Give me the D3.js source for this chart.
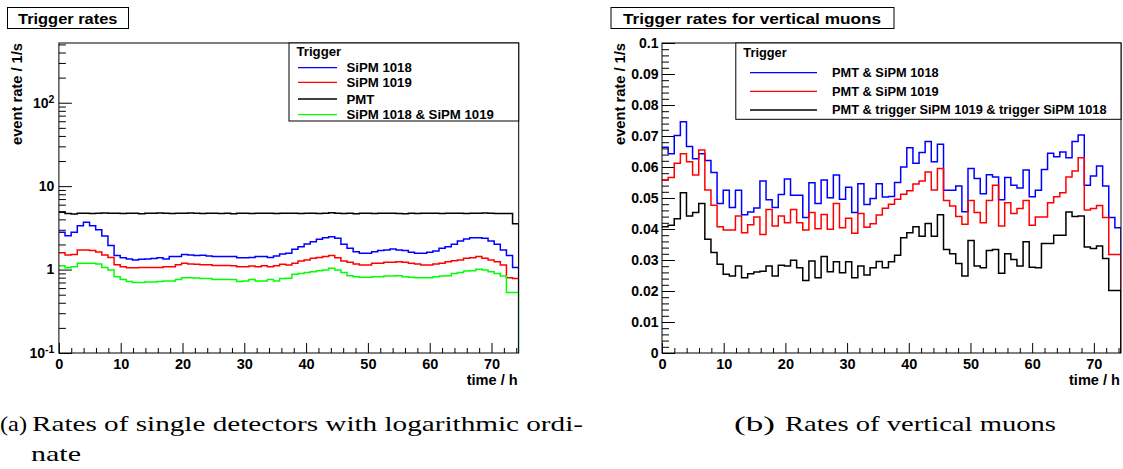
<!DOCTYPE html>
<html>
<head>
<meta charset="utf-8">
<script src="https://cdn.jsdelivr.net/npm/d3@7"></script>
<style>
  body { margin: 0; background: #fff; }
  svg { display: block; font-family: "Liberation Sans", Arial, sans-serif; }
</style>
</head>
<body>
<svg id="chart" width="1123" height="469"></svg>
<script>
// ---- data: one bin per hour, 75 bins over 0 .. 74.4 h ----
const X_MAX = 74.4;
const xMajorTicks = [0, 10, 20, 30, 40, 50, 60, 70];
const xMinorTicks = [2, 4, 6, 8, 12, 14, 16, 18, 22, 24, 26, 28, 32, 34, 36, 38, 42, 44, 46, 48,
                     52, 54, 56, 58, 62, 64, 66, 68, 72, 74];

// left panel (log ordinate)
const logTicks = [0.1, 1, 10, 100];
const logTickLabels = [["10", "-1"], ["1", ""], ["10", ""], ["10", "2"]];
const logMinorTicks = [0.2, 0.3, 0.4, 0.5, 0.6, 0.7, 0.8, 0.9, 2, 3, 4, 5, 6, 7, 8, 9,
                       20, 30, 40, 50, 60, 70, 80, 90, 200, 300, 400, 500];

const sipm1018 = [2.80, 2.55, 2.80, 3.36, 3.69, 3.36, 3.01, 2.53, 1.94, 1.47,
  1.39, 1.34, 1.30, 1.33, 1.34, 1.36, 1.39, 1.34, 1.43, 1.43,
  1.52, 1.50, 1.47, 1.48, 1.45, 1.43, 1.43, 1.43, 1.43, 1.39,
  1.39, 1.40, 1.43, 1.43, 1.40, 1.45, 1.54, 1.57, 1.75, 1.88,
  2.03, 2.16, 2.31, 2.41, 2.48, 2.37, 2.01, 1.80, 1.64, 1.57,
  1.57, 1.64, 1.69, 1.72, 1.77, 1.72, 1.69, 1.61, 1.57, 1.57,
  1.61, 1.67, 1.80, 1.88, 2.01, 2.20, 2.33, 2.41, 2.41, 2.37,
  2.20, 2.01, 1.72, 1.47, 1.06];
const sipm1019 = [1.59, 1.50, 1.52, 1.72, 1.72, 1.69, 1.62, 1.50, 1.40, 1.14,
  1.08, 1.05, 1.05, 1.06, 1.06, 1.06, 1.06, 1.08, 1.08, 1.14,
  1.19, 1.17, 1.16, 1.14, 1.14, 1.12, 1.12, 1.12, 1.11, 1.08,
  1.08, 1.10, 1.08, 1.11, 1.08, 1.11, 1.16, 1.135, 1.19, 1.27,
  1.30, 1.37, 1.40, 1.43, 1.47, 1.39, 1.27, 1.22, 1.17, 1.135,
  1.135, 1.19, 1.19, 1.22, 1.22, 1.24, 1.22, 1.19, 1.17, 1.135,
  1.135, 1.17, 1.19, 1.24, 1.28, 1.30, 1.37, 1.39, 1.43, 1.37,
  1.30, 1.24, 1.135, 0.80, 0.78];
const pmt = [4.85, 4.70, 4.65, 4.72, 4.75, 4.70, 4.72, 4.78, 4.72, 4.75,
  4.70, 4.72, 4.75, 4.68, 4.72, 4.75, 4.78, 4.72, 4.70, 4.75,
  4.72, 4.78, 4.75, 4.70, 4.72, 4.75, 4.70, 4.72, 4.68, 4.75,
  4.72, 4.70, 4.72, 4.75, 4.72, 4.70, 4.72, 4.75, 4.72, 4.70,
  4.72, 4.75, 4.70, 4.72, 4.80, 4.72, 4.70, 4.72, 4.68, 4.75,
  4.72, 4.70, 4.72, 4.75, 4.72, 4.70, 4.68, 4.72, 4.70, 4.72,
  4.75, 4.72, 4.70, 4.72, 4.75, 4.72, 4.70, 4.72, 4.75, 4.78,
  4.72, 4.70, 4.70, 4.70, 3.55];
const sipmBoth = [1.11, 1.05, 1.08, 1.19, 1.19, 1.19, 1.17, 1.06, 0.99, 0.82,
  0.76, 0.72, 0.70, 0.70, 0.71, 0.71, 0.72, 0.73, 0.73, 0.76,
  0.80, 0.80, 0.79, 0.78, 0.78, 0.76, 0.76, 0.76, 0.76, 0.72,
  0.73, 0.76, 0.73, 0.73, 0.76, 0.73, 0.78, 0.785, 0.877, 0.90,
  0.92, 0.944, 0.97, 0.99, 1.035, 0.99, 0.92, 0.845, 0.82, 0.81,
  0.81, 0.82, 0.82, 0.84, 0.84, 0.845, 0.82, 0.81, 0.80, 0.80,
  0.80, 0.82, 0.84, 0.845, 0.90, 0.92, 0.96, 0.97, 1.01, 0.99,
  0.944, 0.90, 0.84, 0.53, 0.53];

// right panel (linear ordinate)
const linTicks = [0, 0.01, 0.02, 0.03, 0.04, 0.05, 0.06, 0.07, 0.08, 0.09, 0.1];
const linTickLabels = ["0", "0.01", "0.02", "0.03", "0.04", "0.05", "0.06", "0.07", "0.08", "0.09", "0.1"];

const pmtSipm1018 = [0.0664, 0.0643, 0.0702, 0.0746, 0.0666, 0.0627, 0.0643, 0.0621, 0.0582, 0.0482,
  0.0525, 0.0469, 0.0525, 0.0446, 0.0455, 0.0468, 0.0555, 0.0494, 0.0469, 0.0511,
  0.0561, 0.0509, 0.0509, 0.0437, 0.0549, 0.0482, 0.0558, 0.0501, 0.0574, 0.0496,
  0.0535, 0.0453, 0.0546, 0.0479, 0.0498, 0.0546, 0.0503, 0.0505, 0.0550, 0.0600,
  0.0662, 0.0612, 0.0647, 0.0682, 0.0617, 0.0673, 0.0525, 0.0525, 0.0539, 0.0456,
  0.0595, 0.0563, 0.0514, 0.0575, 0.0568, 0.0494, 0.0566, 0.0541, 0.0532, 0.0590,
  0.0504, 0.0525, 0.0592, 0.0644, 0.0633, 0.0648, 0.0630, 0.0682, 0.0703, 0.0541,
  0.0571, 0.0603, 0.0539, 0.0437, 0.0404];
const pmtSipm1019 = [0.0557, 0.0566, 0.0612, 0.0643, 0.0617, 0.0574, 0.0655, 0.0526, 0.0477, 0.0407,
  0.0397, 0.0397, 0.0442, 0.0388, 0.0414, 0.0439, 0.0382, 0.0463, 0.0410, 0.0442,
  0.0420, 0.0463, 0.0420, 0.0397, 0.0453, 0.0401, 0.0447, 0.0399, 0.0482, 0.0404,
  0.0435, 0.0386, 0.0450, 0.0406, 0.0417, 0.0445, 0.0467, 0.0480, 0.0496, 0.0512,
  0.0523, 0.0545, 0.0555, 0.0584, 0.0526, 0.0595, 0.0492, 0.0474, 0.0440, 0.0415,
  0.0492, 0.0453, 0.0420, 0.0492, 0.0541, 0.0410, 0.0485, 0.0450, 0.0466, 0.0492,
  0.0412, 0.0439, 0.0439, 0.0485, 0.0504, 0.0517, 0.0568, 0.0587, 0.0630, 0.0461,
  0.0466, 0.0476, 0.0437, 0.0318, 0.0318];
const pmtAllThree = [0.0407, 0.0412, 0.0433, 0.0517, 0.0442, 0.0453, 0.0482, 0.0367, 0.0324, 0.0286,
  0.0254, 0.0248, 0.0281, 0.0243, 0.0256, 0.0261, 0.0264, 0.0281, 0.0248, 0.0283,
  0.0281, 0.0299, 0.0275, 0.0234, 0.0297, 0.0243, 0.0311, 0.0262, 0.0294, 0.0259,
  0.0294, 0.0243, 0.0281, 0.0252, 0.0275, 0.0295, 0.0275, 0.0294, 0.0315, 0.0372,
  0.0388, 0.0407, 0.0377, 0.0418, 0.0377, 0.0446, 0.0334, 0.0320, 0.0289, 0.0248,
  0.0363, 0.0281, 0.0275, 0.0331, 0.0334, 0.0257, 0.0320, 0.0302, 0.0281, 0.0359,
  0.0277, 0.0275, 0.0353, 0.0353, 0.0380, 0.0380, 0.0455, 0.0440, 0.0442, 0.0342,
  0.0337, 0.0345, 0.0305, 0.0202, 0.0202];

const leftSeries = [
  { name: "SiPM 1018", values: sipm1018, color: "#0000ff" },
  { name: "SiPM 1019", values: sipm1019, color: "#ff0000" },
  { name: "PMT", values: pmt, color: "#000000" },
  { name: "SiPM 1018 & SiPM 1019", values: sipmBoth, color: "#00ff00" }
];
const rightSeries = [
  { name: "PMT & SiPM 1018", values: pmtSipm1018, color: "#0000ff" },
  { name: "PMT & SiPM 1019", values: pmtSipm1019, color: "#ff0000" },
  { name: "PMT & trigger SiPM 1019 & trigger SiPM 1018", values: pmtAllThree, color: "#000000" }
];

// ---- layout ----
const TOP = 43, BOTTOM = 353;
const svg = d3.select("#chart");

function histLine(x, y, floorY, values) {
  const bw = X_MAX / values.length;
  const pts = values.map((v, i) => [x(i * bw), y(v)]);
  pts.push([x(X_MAX), y(values[values.length - 1])]);
  pts.push([x(X_MAX), floorY]);
  return d3.line().curve(d3.curveStepAfter)(pts);
}

function styleAxis(a, size) {
  a.select(".domain").remove();
  a.selectAll("line").attr("stroke", "#000").attr("stroke-width", 1);
  a.selectAll("text").attr("fill", "#000").attr("font-size", size)
    .attr("font-weight", "bold").attr("font-family", "Liberation Sans, Arial, sans-serif");
}

function drawFrame(g, x0, x1, id) {
  g.append("clipPath").attr("id", id).append("rect")
    .attr("x", x0).attr("y", TOP).attr("width", x1 - x0).attr("height", BOTTOM - TOP);
  g.append("rect").attr("x", x0).attr("y", TOP).attr("width", x1 - x0).attr("height", BOTTOM - TOP)
    .attr("fill", "none").attr("stroke", "#000").attr("stroke-width", 1);
}

function drawXAxis(g, x) {
  g.append("g").attr("transform", `translate(0,${BOTTOM})`)
    .call(d3.axisBottom(x).tickValues(xMinorTicks).tickSize(-5).tickFormat(""))
    .call(a => styleAxis(a, 14.5));
  g.append("g").attr("transform", `translate(0,${BOTTOM})`)
    .call(d3.axisBottom(x).tickValues(xMajorTicks).tickSize(-10).tickPadding(5.5).tickFormat(d3.format("d")))
    .call(a => styleAxis(a, 14.5));
  g.append("text").attr("x", x.range()[1] - 1).attr("y", 384.5).attr("text-anchor", "end")
    .attr("font-size", 14.5).attr("font-weight", "bold")
    .attr("textLength", 51).attr("lengthAdjust", "spacingAndGlyphs").text("time / h");
}

function drawYLabel(g, cx) {
  g.append("text").attr("transform", `translate(${cx},${TOP}) rotate(-90)`)
    .attr("text-anchor", "end").attr("dy", "0.35em")
    .attr("font-size", 14).attr("font-weight", "bold")
    .attr("textLength", 102).attr("lengthAdjust", "spacingAndGlyphs").text("event rate / 1/s");
}

function drawTitle(g, box, textX, textW, label) {
  g.append("rect").attr("x", box[0]).attr("y", 7.5).attr("width", box[1] - box[0]).attr("height", 21)
    .attr("fill", "#fff").attr("stroke", "#000").attr("stroke-width", 1);
  g.append("text").attr("x", textX).attr("y", 23.5)
    .attr("font-size", 15.5).attr("font-weight", "bold")
    .attr("textLength", textW).attr("lengthAdjust", "spacingAndGlyphs").text(label);
}

function drawLegend(g, box, series, rows, lineX, textX, headerY, fontSize) {
  g.append("rect").attr("x", box[0]).attr("y", box[1]).attr("width", box[2] - box[0])
    .attr("height", box[3] - box[1]).attr("fill", "#fff").attr("stroke", "#000").attr("stroke-width", 1);
  g.append("text").attr("x", box[0] + 7.5).attr("y", headerY).attr("dy", "0.35em")
    .attr("font-size", fontSize).attr("font-weight", "bold").text("Trigger");
  const item = g.selectAll("g.item").data(series).join("g").attr("class", "item");
  item.append("line").attr("x1", lineX[0]).attr("x2", lineX[1])
    .attr("y1", (d, i) => rows[i]).attr("y2", (d, i) => rows[i])
    .attr("stroke", d => d.color).attr("stroke-width", 1.3);
  item.append("text").attr("x", textX).attr("y", (d, i) => rows[i]).attr("dy", "0.35em")
    .attr("font-size", fontSize).attr("font-weight", "bold").text(d => d.name);
}

// ---- left panel: rates of single detectors ----
{
  const x0 = 58.9, x1 = 518.7;
  const g = svg.append("g");
  const x = d3.scaleLinear().domain([0, X_MAX]).range([x0, x1]);
  const y = d3.scaleLog().domain([0.1, 520]).range([BOTTOM, TOP]);

  drawTitle(g, [7.5, 128.5], 18, 99.5, "Trigger rates");

  g.append("g").attr("transform", `translate(${x0},0)`)
    .call(d3.axisLeft(y).tickValues(logMinorTicks).tickSize(-7).tickFormat(""))
    .call(a => styleAxis(a, 14));
  g.append("g").attr("transform", `translate(${x0},0)`)
    .call(d3.axisLeft(y).tickValues(logTicks).tickSize(-13).tickFormat(""))
    .call(a => styleAxis(a, 14));
  const lab = g.selectAll("text.ylab").data(logTicks).join("text").attr("class", "ylab")
    .attr("x", x0 - 4.5).attr("y", d => y(d)).attr("dy", "0.35em").attr("text-anchor", "end")
    .attr("font-size", 14).attr("font-weight", "bold");
  lab.append("tspan").text((d, i) => logTickLabels[i][0]);
  lab.append("tspan").attr("dy", "-0.45em").attr("font-size", 10.5)
    .text((d, i) => logTickLabels[i][1]);

  drawXAxis(g, x);
  drawYLabel(g, 17);

  g.append("g").attr("clip-path", "url(#clipL)")
    .selectAll("path").data(leftSeries).join("path")
    .attr("d", d => histLine(x, y, BOTTOM + 2, d.values))
    .attr("fill", "none").attr("stroke", d => d.color).attr("stroke-width", 1.5);

  drawFrame(g, x0, x1, "clipL");
  drawLegend(g, [289, 43, x1, 121], leftSeries, [67.7, 82.3, 99, 114.7], [298, 337], 346.5, 51.5, 13.2);
}

// ---- right panel: rates of vertical muons ----
{
  const x0 = 662, x1 = 1121;
  const g = svg.append("g");
  const x = d3.scaleLinear().domain([0, X_MAX]).range([x0, x1]);
  const y = d3.scaleLinear().domain([0, 0.1]).range([BOTTOM, TOP]);

  drawTitle(g, [611, 894], 623, 258, "Trigger rates for vertical muons");

  g.append("g").attr("transform", `translate(${x0},0)`)
    .call(d3.axisLeft(y).ticks(50).tickSize(-7).tickFormat(""))
    .call(a => styleAxis(a, 14));
  g.append("g").attr("transform", `translate(${x0},0)`)
    .call(d3.axisLeft(y).tickValues(linTicks).tickSize(-13).tickPadding(3.5)
      .tickFormat((d, i) => linTickLabels[i]))
    .call(a => styleAxis(a, 14));

  drawXAxis(g, x);
  drawYLabel(g, 620);

  g.append("g").attr("clip-path", "url(#clipR)")
    .selectAll("path").data(rightSeries).join("path")
    .attr("d", d => histLine(x, y, y(0), d.values))
    .attr("fill", "none").attr("stroke", d => d.color).attr("stroke-width", 1.5);

  drawFrame(g, x0, x1, "clipR");
  drawLegend(g, [735.8, 43, x1, 119.3], rightSeries, [72.7, 91.3, 110], [750, 817], 832, 52.7, 12.8);
}

// ---- sub-figure captions ----
const cap = svg.append("g").attr("font-family", "Liberation Serif, Times New Roman, serif")
  .attr("font-size", 22).attr("fill", "#000");
cap.append("text").attr("x", 0).attr("y", 430.5).attr("textLength", 27)
  .attr("lengthAdjust", "spacingAndGlyphs").text("(a)");
cap.append("text").attr("x", 32).attr("y", 430.5).attr("textLength", 551)
  .attr("lengthAdjust", "spacingAndGlyphs").text("Rates of single detectors with logarithmic ordi-");
cap.append("text").attr("x", 31).attr("y", 460.5).attr("textLength", 50)
  .attr("lengthAdjust", "spacingAndGlyphs").text("nate");
cap.append("text").attr("x", 734).attr("y", 430.5).attr("textLength", 41)
  .attr("lengthAdjust", "spacingAndGlyphs").text("(b)");
cap.append("text").attr("x", 785).attr("y", 430.5).attr("textLength", 271)
  .attr("lengthAdjust", "spacingAndGlyphs").text("Rates of vertical muons");
</script>
</body>
</html>
